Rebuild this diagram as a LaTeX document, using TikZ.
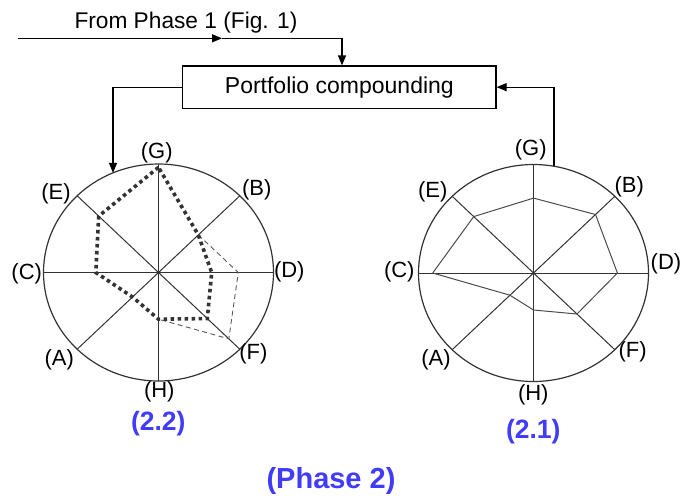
\documentclass[tikz,border=0pt]{standalone}
\usepackage{fontspec}
\setmainfont{Liberation Sans}
\usetikzlibrary{arrows.meta}
\definecolor{labblue}{RGB}{64,60,250}
\begin{document}
\begin{tikzpicture}[x=1pt,y=-1pt,
  conn/.style={line width=1.2pt, draw=black},
  arr/.style={conn, -{Triangle[length=10pt,width=8pt]}},
  rim/.style={line width=1.2pt, draw=black!80},
  spoke/.style={line width=1pt, draw=black!80},
  dotpoly/.style={line width=3.6pt, draw=black!80, dash pattern=on 3.6pt off 3.4pt},
  dashpoly/.style={line width=0.9pt, draw=black!65, dash pattern=on 5pt off 3.5pt},
  thinpoly/.style={line width=1pt, draw=black!70, line join=round},
  lbl/.style={font=\fontsize{22}{24}\selectfont, inner sep=0pt},
  capt/.style={font=\fontsize{26.5}{29}\selectfont\bfseries, text=labblue, inner sep=0pt},
  boxstyle/.style={draw=black, line width=1.2pt, minimum width=313.3pt, minimum height=42.3pt, inner sep=0pt, font=\fontsize{23}{26}\selectfont}
]
\useasboundingbox (0,0) rectangle (682,499);

% top part
\node[boxstyle] (box) at (339.35,87.15) {Portfolio compounding};
\node[lbl, font=\fontsize{22.7}{25}\selectfont, anchor=base west] (from) at (74.3,28.3) {From Phase 1 (Fig. 1)};
\coordinate (s) at (17.5,38.3);
\coordinate (m) at (222,38.3);
\coordinate (k) at (342,38.3);
\coordinate (la) at (113,172.9);
\coordinate (ra) at (554,166.2);
\draw[arr] (s) -- (m);
\draw[arr] (m) -- (k) -- (k |- box.north);
\draw[arr] (box.west) -| (la);
\draw[arr] (ra) |- (box.east);

% left circle (2.2)
\coordinate (L) at (158.5,272.5);
\draw[rim] (L) ellipse [x radius=115pt, y radius=108.5pt];
\draw[spoke] (158.5,164) -- (158.5,381);
\draw[spoke] (43.5,272.5) -- (273.5,272.5);
\draw[spoke] (77.2,195.8) -- (239.8,349.2);
\draw[spoke] (239.8,195.8) -- (77.2,349.2);
\draw[dashpoly] (198.3,234.9) -- (238.3,272.5) -- (228.8,338.8) -- (158.5,319.2);
\draw[dotpoly] (158.5,167.3) -- (98.7,216.1) -- (95.8,272.5) -- (132.5,297.0) -- (158.5,319.2) -- (207.3,318.5) -- (211.7,272.5) -- (198.3,234.9) -- cycle;

\node[lbl] (lG) at (156.7,153.3) {(G)};
\node[lbl] (lE) at (56,193.3) {(E)};
\node[lbl] (lB) at (256.7,190) {(B)};
\node[lbl] (lC) at (26.7,273.3) {(C)};
\node[lbl] (lD) at (289.3,271.7) {(D)};
\node[lbl] (lA) at (59.3,359.3) {(A)};
\node[lbl] (lF) at (253.3,354) {(F)};
\node[lbl] (lH) at (159.3,391.7) {(H)};
\node[capt] (c22) at (158.3,423.3) {(2.2)};

% right circle (2.1)
\coordinate (R) at (533.5,273);
\draw[rim] (R) ellipse [x radius=115pt, y radius=108.5pt];
\draw[spoke] (533.5,164.5) -- (533.5,381.5);
\draw[spoke] (418.5,273) -- (648.5,273);
\draw[spoke] (452.2,196.3) -- (614.8,349.7);
\draw[spoke] (614.8,196.3) -- (452.2,349.7);
\draw[thinpoly] (533.5,198.1) -- (595.5,214.5) -- (617.4,273) -- (577.0,314.0) -- (533.5,310) -- (509.9,295.2) -- (432.7,273) -- (473.7,216.6) -- cycle;

\node[lbl] (rG) at (530.7,150) {(G)};
\node[lbl] (rE) at (432.7,191.7) {(E)};
\node[lbl] (rB) at (629.3,186.7) {(B)};
\node[lbl] (rC) at (399.3,271.7) {(C)};
\node[lbl] (rD) at (666,264) {(D)};
\node[lbl] (rA) at (436,360) {(A)};
\node[lbl] (rF) at (632.7,351.7) {(F)};
\node[lbl] (rH) at (533.3,395) {(H)};
\node[capt] (c21) at (533.3,431.7) {(2.1)};

\node[capt, font=\fontsize{29}{32}\selectfont\bfseries] (ph) at (331,480.7) {(Phase 2)};
\end{tikzpicture}
\end{document}
